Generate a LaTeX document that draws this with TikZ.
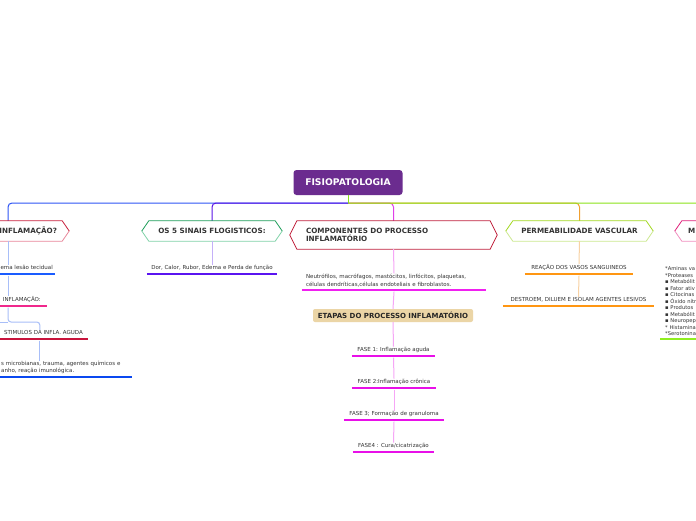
\documentclass[tikz,border=0pt]{standalone}
\usepackage{fontspec}
\setmainfont{DejaVu Sans}
\definecolor{rootc}{HTML}{6B2C8F}
\definecolor{txt}{HTML}{333333}
\definecolor{cblue}{HTML}{2F55F5}
\definecolor{cpurple}{HTML}{5A14E6}
\definecolor{cgreen}{HTML}{8BE31A}
\definecolor{cpink}{HTML}{E040E8}
\definecolor{corange}{HTML}{F0A030}
\definecolor{cbl}{HTML}{A8BEF8}
\definecolor{cpl}{HTML}{C4B0F8}
\definecolor{cpkl}{HTML}{F6A6F6}
\definecolor{col}{HTML}{F8D2A4}
\definecolor{hAa}{HTML}{C8203C}
\definecolor{hAb}{HTML}{E8879A}
\definecolor{hBa}{HTML}{1E9E5A}
\definecolor{hBb}{HTML}{80D2A8}
\definecolor{hCa}{HTML}{C0203C}
\definecolor{hDa}{HTML}{A2D820}
\definecolor{hDb}{HTML}{CCE890}
\definecolor{hEa}{HTML}{E0207A}
\definecolor{hEb}{HTML}{F090C0}
\definecolor{uA}{HTML}{1A5CFF}
\definecolor{uB}{HTML}{F0288C}
\definecolor{uC}{HTML}{C8143C}
\definecolor{uD}{HTML}{0A48F0}
\definecolor{uE}{HTML}{5A14F0}
\definecolor{uF}{HTML}{F020F0}
\definecolor{uG}{HTML}{E810E8}
\definecolor{uH}{HTML}{FF9612}
\definecolor{uI}{HTML}{90EE20}
\definecolor{etc}{HTML}{EBD5A6}
\newcommand\myhex[3]{%
  \draw[#2,line width=0.8pt,line join=round] (#1.west) -- ([xshift=7pt]#1.north west) -- ([xshift=-7pt]#1.north east) -- (#1.east);
  \draw[#3,line width=0.8pt,line join=round] (#1.west) -- ([xshift=7pt]#1.south west) -- ([xshift=-7pt]#1.south east) -- (#1.east);}
\newcommand\myul[2]{\draw[#2,line width=2.5pt] ([yshift=-2.3pt]#1.south west) -- ([yshift=-2.3pt]#1.south east);}
\tikzset{
  root/.style={fill=rootc,rounded corners=3pt,minimum width=109pt,minimum height=25pt,text=white,font=\fontsize{9.2}{10}\selectfont\bfseries,inner sep=0pt},
  hex/.style={minimum height=20pt,inner sep=0pt,font=\fontsize{7.2}{8}\selectfont\bfseries,text=txt},
  itm/.style={font=\fontsize{5.5}{6.5}\selectfont,text=txt,inner xsep=0pt,inner ysep=0.5pt,text depth=1.3pt},
  itmm/.style={text=txt,inner ysep=0.5pt},
  etapa/.style={fill=etc,rounded corners=2pt,minimum width=160pt,minimum height=13pt,inner sep=0pt,font=\fontsize{7}{8}\selectfont\bfseries,text=black!85},
  ln/.style={line width=1pt},
  lnl/.style={line width=1pt}
}
\begin{document}
\begin{tikzpicture}[x=1pt,y=-1pt]
\useasboundingbox (0,0) rectangle (696,520);
\fill[white] (0,0) rectangle (696,520);
\clip (0,0) rectangle (696,520);

% root and main branches
\node[root] (r) at (348,182.5) {FISIOPATOLOGIA};
\coordinate (tr) at (348,203);
\node[hex,minimum width=122pt,text width=98pt,inner xsep=12pt,align=right] (h1) at (8,231) {INFLAMAÇÃO?};
\node[hex,minimum width=140pt] (h2) at (212,231) {OS 5 SINAIS FLOGISTICOS:};
\node[hex,minimum width=207pt,minimum height=28pt,text width=175pt,inner xsep=16pt,align=left] (h3) at (393.5,235) {COMPONENTES DO PROCESSO\\INFLAMATÓRIO};
\node[hex,minimum width=147pt] (h4) at (579.5,231) {PERMEABILIDADE VASCULAR};
\node[hex,minimum width=130pt,text width=104pt,inner xsep=13pt,align=left] (h5) at (740,231) {M};

\draw[ln,cpink,rounded corners=4pt] (tr) -| (h3.north);
\draw[ln,corange,rounded corners=4pt] (tr) -| (h4.north);
\draw[ln,cgreen,rounded corners=4pt] (tr) -| (h5.north);
\draw[ln,cgreen] (r.south) -- (tr);
\draw[ln,cblue,rounded corners=4pt] (tr) -| (h1.north);
\draw[ln,cpurple,rounded corners=4pt] (tr) -| (h2.north);

\myhex{h1}{hAa}{hAb}
\myhex{h2}{hBa}{hBb}
\myhex{h3}{hCa}{hCa}
\myhex{h4}{hDa}{hDb}
\myhex{h5}{hEa}{hEb}

% branch 1 items
\node[itm,anchor=south east,minimum width=100pt,text width=96pt,inner xsep=2pt,align=right] (a) at (55,271.7) {ema lesão tecidual};
\node[itm,anchor=south east,minimum width=90pt,text width=78pt,inner xsep=6pt,align=right] (b) at (47,303.7) {INFLAMAÇÃO:};
\node[itm,anchor=south east,minimum width=96pt,text width=86pt,inner xsep=5pt,align=right] (c) at (88,336.7) {STIMULOS DA INFLA. AGUDA};
\node[itmm,font=\fontsize{5.5}{7}\selectfont,anchor=south west,minimum width=140pt,text width=130pt,inner xsep=5pt,align=left] (d) at (-8,374.7) {\hspace*{4pt}s microbianas, trauma, agentes químicos e\\\hspace*{4pt}anho, reação imunológica.};
\coordinate (elb) at (8,322);
\coordinate (elbw) at (-10,322);
\draw[lnl,cbl] (h1.south) -- (h1.south |- a.north);
\draw[lnl,cbl] ([yshift=-4pt]h1.south |- a.south) -- (h1.south |- b.north);
\draw[lnl,cbl,rounded corners=3pt] ([yshift=-4pt]h1.south |- b.south) -- (elb) -| (c.north);
\draw[lnl,cbl] (elbw) -- (elb);
\draw[lnl,cbl] ([yshift=-4pt]c.south) -- (c.south |- d.north);
\myul{a}{uA}
\myul{b}{uB}
\myul{c}{uC}
\myul{d}{uD}

% branch 2
\node[itm,anchor=south,minimum width=130pt] (e) at (212,271.7) {Dor, Calor, Rubor, Edema e Perda de função};
\draw[lnl,cpl] (h2.south) -- (e.north);
\myul{e}{uE}

% branch 3
\node[itmm,font=\fontsize{5.5}{8}\selectfont,anchor=south,minimum width=184pt,text width=176pt,inner xsep=4pt,align=left] (f) at (394,287.7) {Neutrófilos, macrófagos, mastócitos, linfócitos, plaquetas,\\células dendríticas,células endoteliais e fibroblastos.};
\node[etapa] (g) at (393,315.5) {ETAPAS DO PROCESSO INFLAMATÓRIO};
\node[itm,anchor=south,minimum width=83pt] (F1) at (393.5,353.7) {FASE 1: Inflamação aguda};
\node[itm,anchor=south,minimum width=84pt] (F2) at (394,385.7) {FASE 2:Inflamação crônica};
\node[itm,anchor=south,minimum width=100pt] (F3) at (394,417.7) {FASE 3; Formação de granuloma};
\node[itm,anchor=south,minimum width=81pt] (F4) at (393.5,449.7) {FASE4 : Cura/cicatrização};
\draw[lnl,cpkl] (h3.south) -- (f.north);
\draw[lnl,cpkl] ([yshift=-4pt]f.south) -- (g.north);
\draw[lnl,cpkl] (g.south) -- (F1.north);
\draw[lnl,cpkl] ([yshift=-4pt]F1.south) -- (F2.north);
\draw[lnl,cpkl] ([yshift=-4pt]F2.south) -- (F3.north);
\draw[lnl,cpkl] ([yshift=-4pt]F3.south) -- (F4.north);
\myul{f}{uF}
\myul{F1}{uG}
\myul{F2}{uG}
\myul{F3}{uG}
\myul{F4}{uG}

% branch 4
\node[itm,anchor=south,minimum width=108pt] (R1) at (579,271.7) {REAÇÃO DOS VASOS SANGUINEOS};
\node[itm,anchor=south,minimum width=151pt] (R2) at (578.5,303.7) {DESTROEM, DILUEM E ISOLAM AGENTES LESIVOS};
\draw[lnl,col] (h4.south) -- (R1.north);
\draw[lnl,col] ([yshift=-4pt]R1.south) -- (R2.north);
\myul{R1}{uH}
\myul{R2}{uH}

% branch 5
\node[itmm,font=\fontsize{5.2}{6.5}\selectfont,anchor=south west,minimum width=160pt,text width=150pt,inner xsep=5pt,align=left] (m) at (660,336.7) {*Aminas va\\{}*Proteases\\{}▪ Metabólit\\{}▪ Fator ativ\\{}▪ Citocinas\\{}▪ Óxido nítr\\{}▪ Produtos\\{}▪ Metabólit\\{}▪ Neuropep\\{}* Histamina\\{}*Serotonina};
\myul{m}{uI}
\end{tikzpicture}
\end{document}
